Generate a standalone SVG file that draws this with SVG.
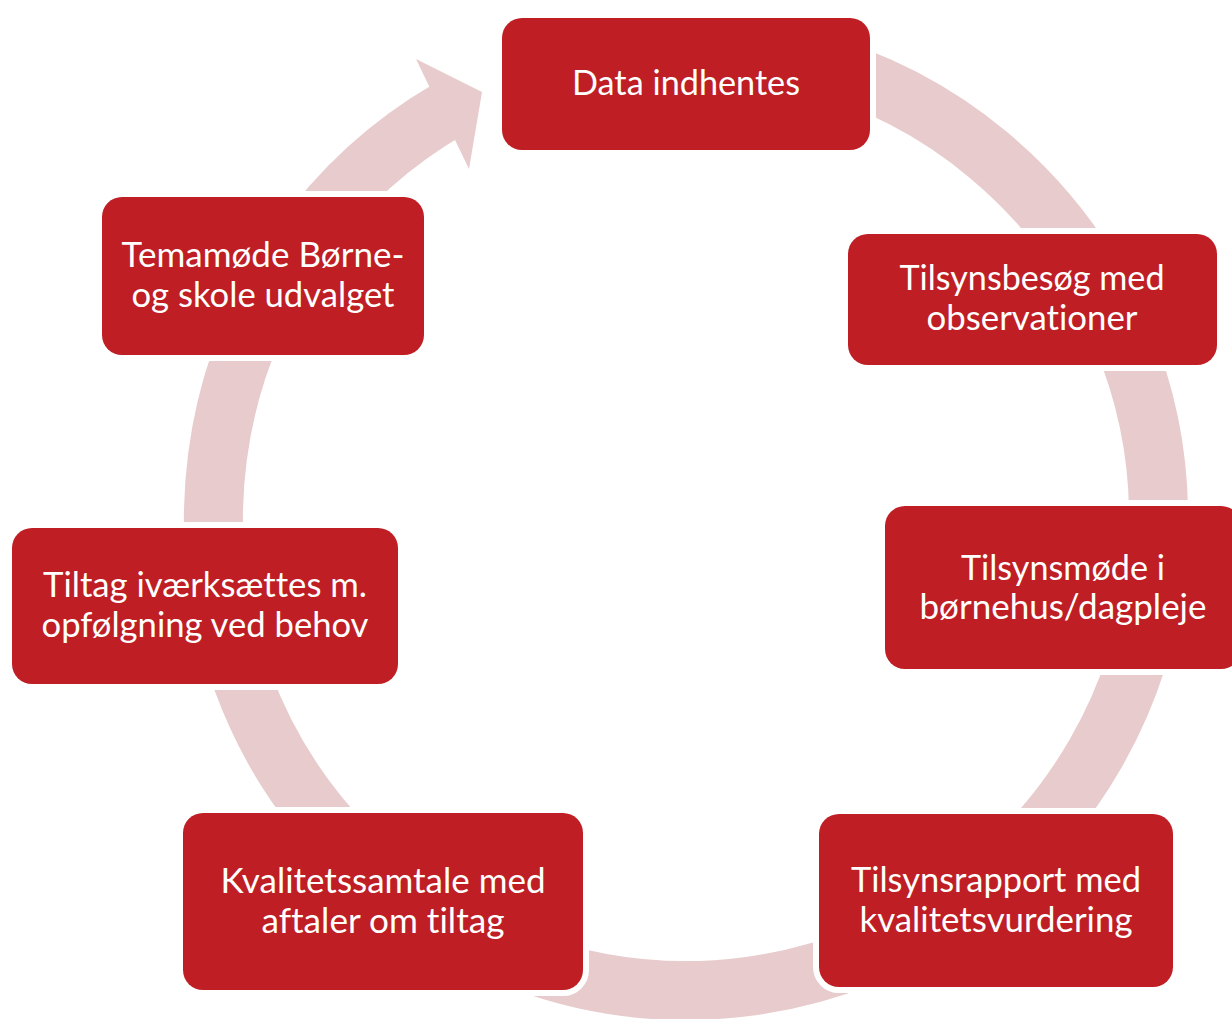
<svg xmlns="http://www.w3.org/2000/svg" width="1232" height="1019" viewBox="0 0 1232 1019">
  <style>
    .ring { fill: none; stroke: #E8CBCC; stroke-width: 59; stroke-linecap: butt; }
    .head { fill: #E8CBCC; stroke: none; }
    .box { fill: #BE1E24; stroke: #FFFFFF; stroke-width: 12; paint-order: stroke; }
    .lbl { font-family: Lato, "Open Sans", "Liberation Sans", sans-serif; font-size: 34px; fill: #FFFFFF; text-anchor: middle; font-variant-ligatures: none; font-feature-settings: "liga" 0, "clig" 0, "dlig" 0; }
  </style>
  <rect x="0" y="0" width="1232" height="1019" fill="#FFFFFF"/>
  <g id="connectors">
    <path class="ring" d="M 808.3 61.6 A 472.5 472.5 0 1 1 449.75 108.8"/>
    <polygon class="head" points="416,59 482,92 469,169"/>
  </g>
  <g id="node-data">
    <rect class="box" x="502" y="18" width="368" height="132" rx="20"/>
    <text class="lbl" x="686" y="95" textLength="228" lengthAdjust="spacingAndGlyphs">Data indhentes</text>
  </g>
  <g id="node-tilsynsbesog">
    <rect class="box" x="848" y="234" width="369" height="131" rx="20"/>
    <text class="lbl" x="1032" y="290" textLength="265" lengthAdjust="spacingAndGlyphs">Tilsynsbesøg med</text>
    <text class="lbl" x="1032" y="330" textLength="211" lengthAdjust="spacingAndGlyphs">observationer</text>
  </g>
  <g id="node-tilsynsmode">
    <rect class="box" x="885" y="506" width="356" height="163" rx="20"/>
    <text class="lbl" x="1063" y="580" textLength="204" lengthAdjust="spacingAndGlyphs">Tilsynsmøde i</text>
    <text class="lbl" x="1063" y="619" textLength="287" lengthAdjust="spacingAndGlyphs">børnehus/dagpleje</text>
  </g>
  <g id="node-tilsynsrapport">
    <rect class="box" x="819" y="814" width="354" height="173" rx="20"/>
    <text class="lbl" x="996" y="892" textLength="290" lengthAdjust="spacingAndGlyphs">Tilsynsrapport med</text>
    <text class="lbl" x="996" y="932" textLength="273" lengthAdjust="spacingAndGlyphs">kvalitetsvurdering</text>
  </g>
  <g id="node-kvalitetssamtale">
    <rect class="box" x="183" y="813" width="400" height="177" rx="20"/>
    <text class="lbl" x="383" y="893" textLength="325" lengthAdjust="spacingAndGlyphs">Kvalitetssamtale med</text>
    <text class="lbl" x="383" y="933" textLength="243" lengthAdjust="spacingAndGlyphs">aftaler om tiltag</text>
  </g>
  <g id="node-tiltag">
    <rect class="box" x="12" y="528" width="386" height="156" rx="20"/>
    <text class="lbl" x="205" y="597" textLength="324" lengthAdjust="spacingAndGlyphs">Tiltag iværksættes m.</text>
    <text class="lbl" x="205" y="637" textLength="327" lengthAdjust="spacingAndGlyphs">opfølgning ved behov</text>
  </g>
  <g id="node-temamode">
    <rect class="box" x="102" y="197" width="322" height="158" rx="20"/>
    <text class="lbl" x="263" y="267" textLength="283" lengthAdjust="spacingAndGlyphs">Temamøde Børne-</text>
    <text class="lbl" x="263" y="307" textLength="263" lengthAdjust="spacingAndGlyphs">og skole udvalget</text>
  </g>
</svg>
